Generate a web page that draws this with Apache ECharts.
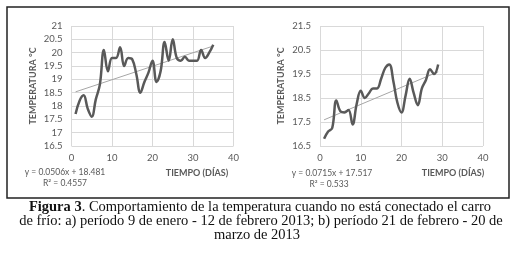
<!DOCTYPE html>
<html>
<head>
<meta charset="utf-8">
<script src="https://cdn.jsdelivr.net/npm/echarts@6/dist/echarts.min.js"></script>
<style>
  html, body { margin: 0; padding: 0; background: #fff; }
  #chart { width: 524px; height: 261px; }
</style>
</head>
<body>
<div id="chart"></div>
<script>
// a) 9 enero - 12 febrero 2013
var diasA = [1, 2, 3, 4, 5, 6, 7, 8, 9, 10, 11, 12, 13, 14, 15, 16, 17, 18, 19, 20,
  21, 22, 23, 24, 25, 26, 27, 28, 29, 30, 31, 32, 33, 34, 35]
var tempA = [17.7, 18.2, 18.4, 17.9, 17.6, 18.25, 18.8, 20.1, 19.3, 19.8, 19.8, 20.2, 19.5, 19.8, 19.75,
  19.2, 18.5, 18.9, 19.25, 19.7, 18.9, 19.3, 20.4, 19.7, 20.5, 19.8, 19.7, 19.85, 19.7, 19.7,
  19.7, 20.1, 19.8, 20.0, 20.3]
var tendA = [[1, 18.53], [35, 20.25]]

// b) 21 febrero - 20 marzo 2013
var diasB = [1, 2, 3, 4, 5, 6, 7, 8, 9, 10, 11, 12, 13, 14, 15, 16, 17, 18, 19, 20,
  21, 22, 23, 24, 25, 26, 27, 28, 29]
var tempB = [16.8, 17.1, 17.25, 18.4, 17.95, 17.9, 18.0, 17.4, 18.25, 18.8, 18.5, 18.7, 18.9, 18.9, 19.3,
  19.75, 19.9, 19.2, 18.3, 17.9, 18.6, 19.3, 18.7, 18.2, 18.9, 19.25, 19.7, 19.5, 19.9]
var tendB = [[1, 17.59], [29, 19.59]]

var ecuacionA = ['y = 0.0506x + 18.481', 'R² = 0.4557']
var ecuacionB = ['y = 0.0715x + 17.517', 'R² = 0.533']

function pares(xs, ys) {
  return xs.map(function (x, i) { return [x, ys[i]] })
}

var gris = '#595959'
var fuente = 'Lato'
var serif = '14.5px "Liberation Serif"'

function ejeX(idx) {
  return {
    type: 'value', gridIndex: idx, min: 0, max: 40, interval: 10,
    axisLine: { show: false }, axisTick: { show: false },
    axisLabel: { color: gris, fontSize: 9.5, fontFamily: fuente, margin: 7 },
    splitLine: { lineStyle: { color: '#d9d9d9', width: 1 } }
  }
}
function ejeY(idx, min, max, step) {
  return {
    type: 'value', gridIndex: idx, min: min, max: max, interval: step,
    name: 'TEMPERATURA °C', nameLocation: 'middle', nameGap: 34,
    nameTextStyle: { color: gris, fontSize: 9, fontWeight: 'bold', fontFamily: fuente },
    axisLine: { show: false }, axisTick: { show: false },
    axisLabel: { color: gris, fontSize: 9.5, fontFamily: fuente, margin: 9 },
    splitLine: { lineStyle: { color: '#d9d9d9', width: 1 } }
  }
}
function serieDatos(idx, data) {
  return {
    type: 'line', xAxisIndex: idx, yAxisIndex: idx, data: data,
    smooth: 0.4, symbol: 'none', lineStyle: { color: gris, width: 2.5 }, z: 3
  }
}
function serieTend(idx, data) {
  return {
    type: 'line', xAxisIndex: idx, yAxisIndex: idx, data: data,
    symbol: 'none', lineStyle: { color: '#a6a6a6', width: 1 }, z: 2
  }
}
function texto(x, y, str, font, color) {
  return {
    type: 'text', x: x, y: y,
    style: { text: str, fill: color, font: font, textAlign: 'center', textVerticalAlign: 'middle' }
  }
}

var chart = echarts.init(document.getElementById('chart'))
var option = {
  animation: false,
  grid: [
    { left: 71.5, top: 26, width: 162, height: 120 },
    { left: 320, top: 26, width: 163, height: 120 }
  ],
  xAxis: [ejeX(0), ejeX(1)],
  yAxis: [ejeY(0, 16.5, 21, 0.5), ejeY(1, 16.5, 21.5, 1)],
  series: [
    serieTend(0, tendA), serieDatos(0, pares(diasA, tempA)),
    serieTend(1, tendB), serieDatos(1, pares(diasB, tempB))
  ],
  graphic: [
    { type: 'rect', shape: { x: 7, y: 7, width: 502, height: 191 },
      style: { fill: 'none', stroke: '#222', lineWidth: 1.5 } },
    texto(197, 173, 'TIEMPO (DÍAS)', 'bold 9px ' + fuente, gris),
    texto(453, 173, 'TIEMPO (DÍAS)', 'bold 9px ' + fuente, gris),
    texto(65, 172, ecuacionA[0], '8.5px ' + fuente, gris),
    texto(65, 183, ecuacionA[1], '8.5px ' + fuente, gris),
    texto(332, 173, ecuacionB[0], '8.5px ' + fuente, gris),
    texto(329, 184, ecuacionB[1], '8.5px ' + fuente, gris),
    { type: 'text', x: 260, y: 207,
      style: {
        text: '{b|Figura 3}. Comportamiento de la temperatura cuando no está conectado el carro',
        rich: { b: { fontWeight: 'bold', fontSize: 14.5, fontFamily: 'Liberation Serif', fill: '#111' } },
        fill: '#111', font: serif, textAlign: 'center', textVerticalAlign: 'middle'
      } },
    texto(261, 221.5, 'de frío: a) período 9 de enero - 12 de febrero 2013; b) período 21 de febrero - 20 de', serif, '#111'),
    texto(257, 235.5, 'marzo de 2013', serif, '#111')
  ]
}
chart.setOption(option)
</script>
</body>
</html>
